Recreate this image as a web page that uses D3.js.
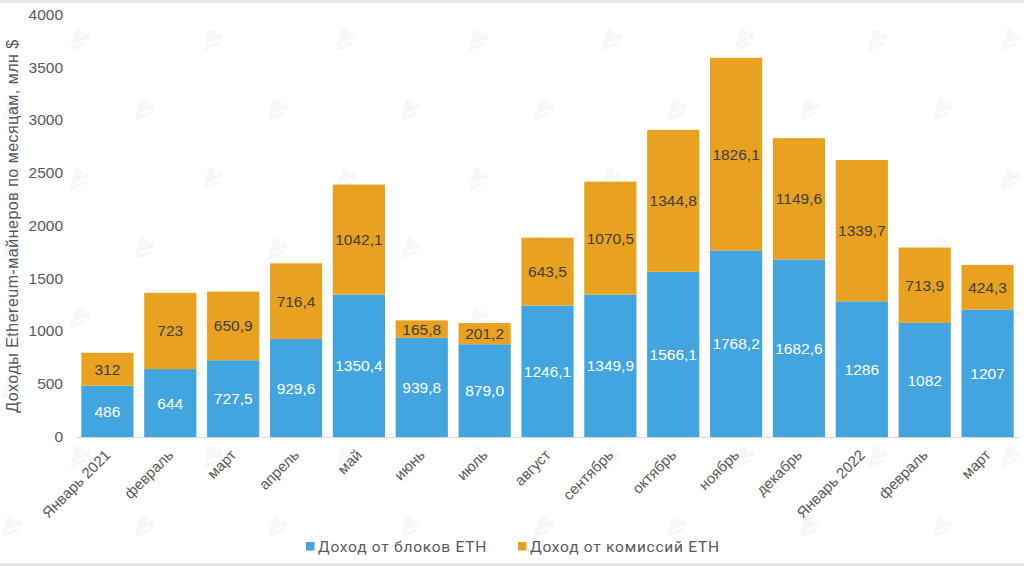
<!DOCTYPE html>
<html>
<head>
<meta charset="utf-8">
<script src="https://cdnjs.cloudflare.com/ajax/libs/d3/7.8.5/d3.min.js"></script>
<style>
  html, body { margin: 0; padding: 0; background: #fff; }
  svg { display: block; font-family: "Liberation Sans", Arial, sans-serif; }
</style>
</head>
<body>
<svg id="chart" width="1024" height="566"></svg>
<script>
const months = ['Январь 2021', 'февраль', 'март', 'апрель', 'май', 'июнь', 'июль', 'август',
  'сентябрь', 'октябрь', 'ноябрь', 'декабрь', 'Январь 2022', 'февраль', 'март'];
const blockIncome = [486, 644, 727.5, 929.6, 1350.4, 939.8, 879.0, 1246.1,
  1349.9, 1566.1, 1768.2, 1682.6, 1286, 1082, 1207];
const feeIncome = [312, 723, 650.9, 716.4, 1042.1, 165.8, 201.2, 643.5,
  1070.5, 1344.8, 1826.1, 1149.6, 1339.7, 713.9, 424.3];
const blockLabels = ['486', '644', '727,5', '929,6', '1350,4', '939,8', '879,0', '1246,1',
  '1349,9', '1566,1', '1768,2', '1682,6', '1286', '1082', '1207'];
const feeLabels = ['312', '723', '650,9', '716,4', '1042,1', '165,8', '201,2', '643,5',
  '1070,5', '1344,8', '1826,1', '1149,6', '1339,7', '713,9', '424,3'];
const yTicks = [0, 500, 1000, 1500, 2000, 2500, 3000, 3500, 4000];
const seriesNames = ['Доход от блоков ETH', 'Доход от комиссий ETH'];
const yTitle = 'Доходы Ethereum-майнеров по месяцам, млн $';

const blue = '#42a5df', orange = '#e8a21f', grey = '#595959';
const svg = d3.select('#chart');

// grey strips at the top and bottom of the screenshot
svg.append('rect').attr('width', 1024).attr('height', 3).attr('fill', '#e6e6e6');
svg.append('rect').attr('y', 563).attr('width', 1024).attr('height', 3).attr('fill', '#e6e6e6');

// watermark, staggered rows
const wm = svg.append('g').attr('fill', 'none').attr('stroke', '#f7f7f7')
  .attr('stroke-width', 3.5).attr('stroke-linejoin', 'round');
d3.range(8).forEach(r => {
  d3.range(9).forEach(c => {
    const wx = (r % 2 ? 10 : 78) + c * 133, wy = 40 + r * 69.5;
    wm.append('path')
      .attr('transform', `translate(${wx},${wy})`)
      .attr('d', 'M-1,-10 L-6,9 L8,3 M-1,-10 L3,-7 L-1,1 L9,-4 M6,-5 L10,-4 L9,0');
  });
});

const x = d3.scaleBand().domain(d3.range(months.length)).range([76, 1019]).paddingInner(0.17).paddingOuter(0.085);
const y = d3.scaleLinear().domain([0, 4000]).range([437, 15]);

const yAxis = d3.axisLeft(y).tickValues(yTicks).tickSize(0).tickPadding(13).tickFormat(d3.format('d'));
const gy = svg.append('g').attr('transform', 'translate(76,-0.5)').call(yAxis);
gy.select('.domain').remove();
gy.selectAll('text').attr('font-size', 15.5).attr('fill', grey).attr('font-family', '"Liberation Sans", Arial, sans-serif');

const bars = svg.append('g');
bars.selectAll('rect.block').data(blockIncome).join('rect').attr('class', 'block')
  .attr('x', (d, i) => x(i)).attr('width', x.bandwidth())
  .attr('y', d => y(d)).attr('height', d => y(0) - y(d)).attr('fill', blue);
bars.selectAll('rect.fee').data(feeIncome).join('rect').attr('class', 'fee')
  .attr('x', (d, i) => x(i)).attr('width', x.bandwidth())
  .attr('y', (d, i) => y(d + blockIncome[i])).attr('height', d => y(0) - y(d)).attr('fill', orange);

const xAxis = d3.axisBottom(x).tickSize(0).tickFormat(i => months[i]);
const gx = svg.append('g').attr('transform', 'translate(0,437)').call(xAxis);
gx.select('.domain').attr('stroke', '#d9d9d9').attr('stroke-width', 1);
gx.selectAll('text')
  .attr('font-size', 15).attr('fill', grey)
  .attr('font-family', '"Liberation Sans", Arial, sans-serif')
  .attr('text-anchor', 'end').attr('dy', 0).attr('y', 0)
  .attr('transform', 'translate(4,19) rotate(-45)');

const labelFont = 15.5;
svg.append('g').selectAll('text').data(blockIncome).join('text')
  .attr('x', (d, i) => x(i) + x.bandwidth() / 2).attr('y', d => y(d / 2))
  .attr('dy', '0.36em').attr('text-anchor', 'middle')
  .attr('font-size', labelFont).attr('fill', '#fff')
  .text((d, i) => blockLabels[i]);
svg.append('g').selectAll('text').data(feeIncome).join('text')
  .attr('x', (d, i) => x(i) + x.bandwidth() / 2).attr('y', (d, i) => y(blockIncome[i] + d / 2))
  .attr('dy', '0.36em').attr('text-anchor', 'middle')
  .attr('font-size', labelFont).attr('fill', '#404040')
  .text((d, i) => feeLabels[i]);

svg.append('text')
  .attr('transform', 'translate(18,226) rotate(-90)')
  .attr('text-anchor', 'middle').attr('font-size', 16).attr('letter-spacing', 0.5).attr('fill', grey)
  .text(yTitle);

// legend
const legendX = [306, 518];
const legend = svg.append('g').selectAll('g').data(seriesNames).join('g')
  .attr('transform', (d, i) => `translate(${legendX[i]},547)`);
legend.append('rect').attr('y', -5).attr('width', 8.5).attr('height', 8.5)
  .attr('fill', (d, i) => [blue, orange][i]);
legend.append('text').attr('x', 12).attr('y', 5)
  .attr('font-family', 'Roboto, sans-serif').attr('font-size', 15.5).attr('letter-spacing', 0.75).attr('fill', grey)
  .text(d => d);
</script>
</body>
</html>
